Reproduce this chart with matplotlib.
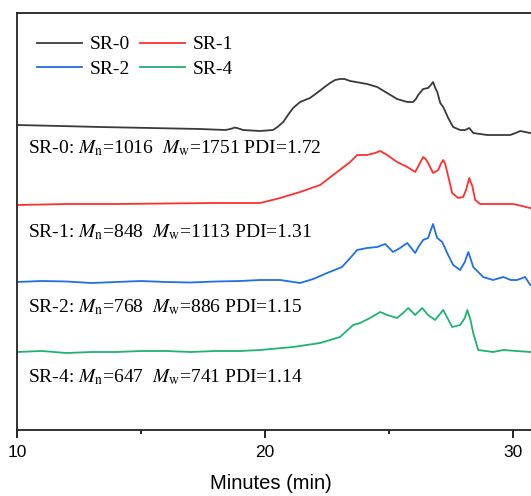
import matplotlib
matplotlib.use("Agg")
import matplotlib.pyplot as plt
import numpy as np

plt.rcParams['mathtext.fontset'] = 'stix'

# retention time (min) and stacked detector signal (arb. units)
t_sr0 = [10, 11.73, 13.35, 15.36, 17.38, 18.4, 18.6, 18.79, 19.0, 19.1, 19.8, 20.32,
         20.5, 20.73, 20.95, 21.13, 21.41, 21.81, 22.14, 22.4, 22.62, 22.82, 23.02,
         23.2, 23.43, 24.11, 24.52, 24.92, 25.32, 25.73, 25.97, 26.08, 26.17, 26.37,
         26.57, 26.68, 26.77, 26.86, 26.94, 27.06, 27.18, 27.38, 27.58, 27.86, 28.06,
         28.23, 28.39, 28.95, 29.88, 30.1, 30.28, 30.69]
y_sr0 = [305, 304, 303, 302, 301, 300, 301, 302.5, 301, 300, 299, 300,
         303, 308, 316, 322, 328, 332, 338, 343, 347, 350, 351,
         351, 349, 346, 343, 337, 331, 328, 328, 331, 335, 341,
         342, 345, 348, 342, 338, 327, 323, 312, 303, 300, 300,
         302, 297, 295, 295, 297, 299, 297]

t_sr1 = [10, 12, 14, 16, 18, 19.8, 20.61, 21.41, 22.22, 22.9, 23.43, 23.71, 24.11,
         24.43, 24.64, 24.92, 25.32, 25.73, 26.05, 26.2, 26.37, 26.47, 26.57, 26.77,
         26.98, 27.08, 27.18, 27.26, 27.34, 27.54, 27.78, 27.98, 28.1, 28.23, 28.35,
         28.47, 28.67, 30.0, 30.69]
y_sr1 = [225, 226, 226, 226.5, 227, 227, 232, 238, 245, 258, 268, 275, 275,
         277, 279, 275, 268, 263, 258, 265, 273, 271, 267, 257,
         260, 266, 270, 266, 258, 237, 232, 233, 240, 252, 244,
         230, 226, 226, 222]

t_sr2 = [10, 11, 12, 13, 14, 15, 16, 17, 18, 19, 19.8, 20.61, 21.41, 21.94, 22.5,
         23.1, 23.43, 23.71, 24.11, 24.52, 24.84, 25.16, 25.44, 25.73, 26.05, 26.2,
         26.37, 26.57, 26.68, 26.77, 26.86, 26.94, 27.14, 27.34, 27.58, 27.86, 28.05,
         28.19, 28.3, 28.39, 28.79, 29.19, 29.6, 29.9, 30.16, 30.48, 30.69]
y_sr2 = [148, 149, 148.5, 147, 148, 149, 148, 147.5, 148.5, 149, 150, 150, 147, 151, 157,
         163, 172, 180, 182, 183, 186, 178, 182, 187, 177, 184,
         190, 192, 200, 206, 198, 192, 188, 177, 165, 160, 168,
         178, 170, 163, 153, 150, 153, 150, 150, 153, 145]

t_sr4 = [10, 11, 12, 13, 14, 15, 16, 17, 18, 19, 19.8, 21.13, 22.22, 23.02, 23.55,
         23.83, 24.23, 24.64, 24.92, 25.32, 25.56, 25.77, 26.05, 26.33, 26.57, 26.85,
         27.18, 27.54, 27.86, 28.05, 28.15, 28.28, 28.39, 28.59, 29.19, 29.6, 30.69]
y_sr4 = [78, 79, 77, 78, 78, 79, 79, 78, 79, 79, 80, 83, 87, 93, 105,
         107, 112, 118, 115, 112, 117, 122, 115, 122, 115, 110,
         120, 103, 105, 112, 120, 110, 97, 80, 78, 80, 78]

labels = ['SR-0', 'SR-1', 'SR-2', 'SR-4']
colors = ['#3a3a3a', '#ff2f2f', '#1f6fe5', '#1fb373']
notes = [r'SR-0: $M_\mathrm{n}$=1016  $M_\mathrm{w}$=1751 PDI=1.72',
         r'SR-1: $M_\mathrm{n}$=848  $M_\mathrm{w}$=1113 PDI=1.31',
         r'SR-2: $M_\mathrm{n}$=768  $M_\mathrm{w}$=886 PDI=1.15',
         r'SR-4: $M_\mathrm{n}$=647  $M_\mathrm{w}$=741 PDI=1.14']
note_y = [277, 193, 118, 48]

fig = plt.figure(figsize=(5.31, 4.96), dpi=100)
ax = fig.add_axes([17 / 531, 66 / 496, 521 / 531, 417 / 496])

series = [(t_sr0, y_sr0), (t_sr1, y_sr1), (t_sr2, y_sr2), (t_sr4, y_sr4)]
handles = []
for (t, y), lab, c in zip(series, labels, colors):
    h, = ax.plot(t, y, color=c, lw=1.3, label=lab)
    handles.append(h)

for txt, yy in zip(notes, note_y):
    ax.text(10.44, yy, txt, family='Liberation Serif', fontsize=14, va='baseline')

ax.set_xlim(10, 31)
ax.set_ylim(0, 417)
ax.set_yticks([])
ax.set_xticks([10, 20, 30])
ax.set_xticks([15, 25], minor=True)
ax.tick_params(axis='x', which='major', direction='out', length=6, width=1.2,
               labelsize=12.5, pad=5)
ax.tick_params(axis='x', which='minor', direction='out', length=3, width=1.2)
for lab in ax.get_xticklabels():
    lab.set_family('Liberation Sans')
for s in ax.spines.values():
    s.set_linewidth(1.3)
    s.set_color('#222222')
ax.set_xlabel('Minutes (min)', family='Liberation Sans', fontsize=14.5)
ax.xaxis.set_label_coords(0.487, -0.105)

# row-wise order: SR-0 SR-1 / SR-2 SR-4
order = [0, 2, 1, 3]
ax.legend([handles[i] for i in order], [labels[i] for i in order],
          ncol=2, frameon=False, loc='upper left',
          bbox_to_anchor=(0.013, 0.978),
          prop={'family': 'Liberation Serif', 'size': 14},
          handlelength=2.3, handletextpad=0.4, columnspacing=0.5,
          labelspacing=0.35, borderaxespad=0.3)

fig.savefig('out.png', dpi=100)
